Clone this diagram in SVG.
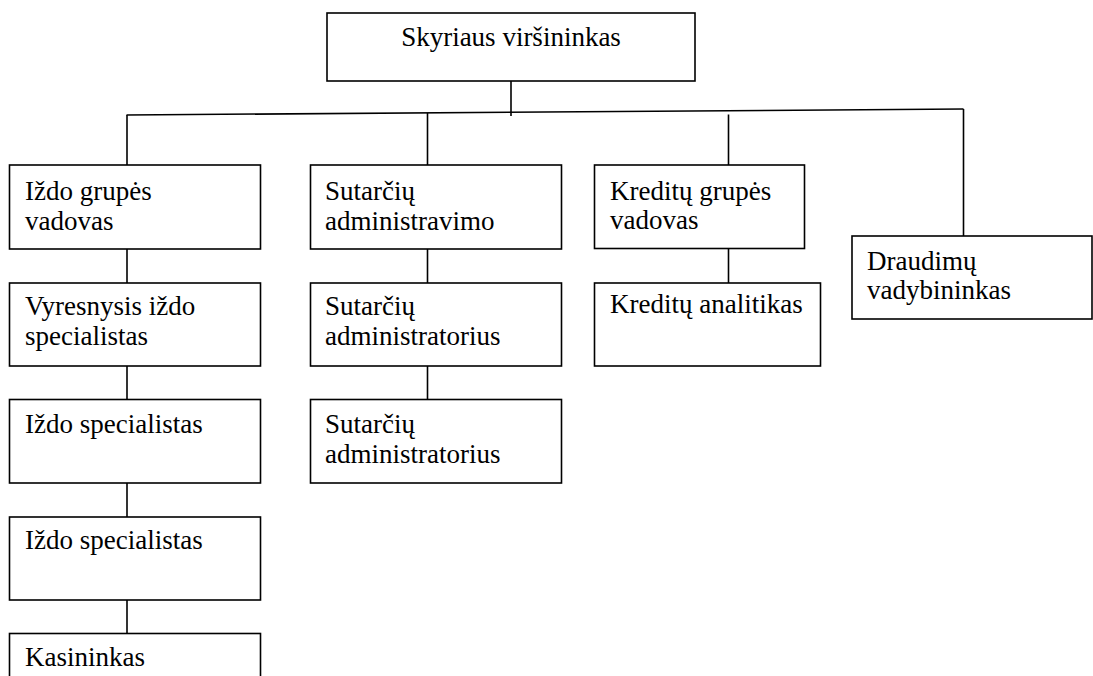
<svg xmlns="http://www.w3.org/2000/svg" width="1093" height="676" viewBox="0 0 1093 676">
<style>
.box{fill:#fff;stroke:#000;stroke-width:1.6}
.ln{fill:none;stroke:#000;stroke-width:1.6}
text{font-family:"Liberation Serif","Times New Roman",serif;font-size:27px;fill:#000}
</style>
<rect width="1093" height="676" fill="#fff"/>
<g id="connectors">
<line class="ln" x1="511" y1="81" x2="511" y2="116"/>
<line class="ln" x1="126.5" y1="115" x2="963.5" y2="109"/>
<line class="ln" x1="127" y1="115" x2="127" y2="165"/>
<line class="ln" x1="427.5" y1="113" x2="427.5" y2="165"/>
<line class="ln" x1="728.5" y1="114.5" x2="728.5" y2="165"/>
<line class="ln" x1="963.5" y1="109" x2="963.5" y2="236"/>
<line class="ln" x1="127" y1="249" x2="127" y2="283"/>
<line class="ln" x1="127" y1="366" x2="127" y2="399.5"/>
<line class="ln" x1="127" y1="483" x2="127" y2="517"/>
<line class="ln" x1="127" y1="600" x2="127" y2="633.5"/>
<line class="ln" x1="427.5" y1="249" x2="427.5" y2="283"/>
<line class="ln" x1="427.5" y1="366" x2="427.5" y2="399.5"/>
<line class="ln" x1="728.5" y1="248.5" x2="728.5" y2="283"/>
</g>
<g id="top">
<rect class="box" x="327" y="13" width="368" height="68"/>
<text x="511" y="46" text-anchor="middle">Skyriaus viršininkas</text>
</g>
<g id="izdo-vadovas">
<rect class="box" x="9.5" y="165" width="251" height="84"/>
<text x="25" y="200">Iždo grupės</text>
<text x="25" y="230">vadovas</text>
</g>
<g id="vyresnysis">
<rect class="box" x="9.5" y="283" width="251" height="83"/>
<text x="25" y="315">Vyresnysis iždo</text>
<text x="25" y="345">specialistas</text>
</g>
<g id="izdo-spec-1">
<rect class="box" x="9.5" y="399.5" width="251" height="83.5"/>
<text x="25" y="432.5">Iždo specialistas</text>
</g>
<g id="izdo-spec-2">
<rect class="box" x="9.5" y="517" width="251" height="83"/>
<text x="25" y="548.5">Iždo specialistas</text>
</g>
<g id="kasininkas">
<rect class="box" x="9.5" y="633.5" width="251" height="84"/>
<text x="25" y="665.5">Kasininkas</text>
</g>
<g id="sutarciu-admin">
<rect class="box" x="310.5" y="165" width="251" height="84"/>
<text x="325" y="200">Sutarčių</text>
<text x="325" y="230">administravimo</text>
</g>
<g id="sutarciu-1">
<rect class="box" x="310.5" y="283" width="251" height="83"/>
<text x="325" y="315">Sutarčių</text>
<text x="325" y="345">administratorius</text>
</g>
<g id="sutarciu-2">
<rect class="box" x="310.5" y="399.5" width="251" height="83.5"/>
<text x="325" y="432.5">Sutarčių</text>
<text x="325" y="462.5">administratorius</text>
</g>
<g id="kreditu-vadovas">
<rect class="box" x="594.5" y="165" width="210" height="83.5"/>
<text x="610" y="199.5">Kreditų grupės</text>
<text x="610" y="228.5">vadovas</text>
</g>
<g id="kreditu-analitikas">
<rect class="box" x="594.5" y="283" width="226" height="83"/>
<text x="610" y="313">Kreditų analitikas</text>
</g>
<g id="draudimu">
<rect class="box" x="852" y="236" width="240" height="83"/>
<text x="867" y="270">Draudimų</text>
<text x="867" y="299">vadybininkas</text>
</g>
</svg>
